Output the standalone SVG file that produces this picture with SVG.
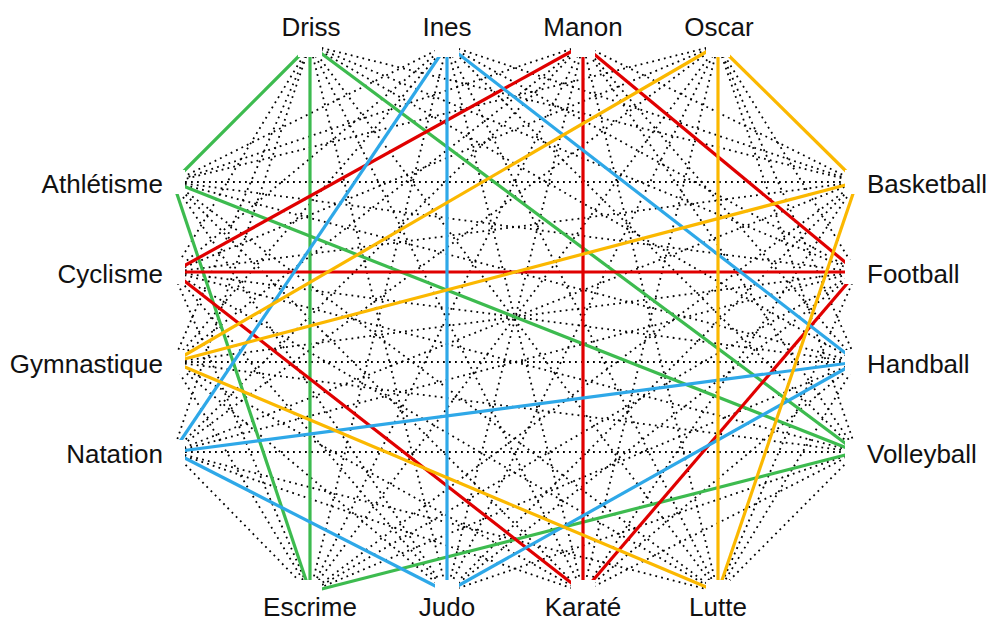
<svg xmlns="http://www.w3.org/2000/svg" width="990" height="623" viewBox="0 0 990 623">
<style>
text{font-family:"Liberation Sans",Arial,sans-serif;font-size:26px;fill:#111}
.l{text-anchor:end}.r{text-anchor:start}.c{text-anchor:middle}
.d{stroke:#000;stroke-width:1.8;stroke-dasharray:1.8 4.2;fill:none}
.g{stroke:#3dbb4f;stroke-width:3.2;fill:none}
.rd{stroke:#e00000;stroke-width:3.2;fill:none}
.b{stroke:#2ea8e8;stroke-width:3.2;fill:none}
.y{stroke:#fbb800;stroke-width:3.2;fill:none}
</style>
<defs>
<mask id="m" maskUnits="userSpaceOnUse" x="0" y="0" width="990" height="623">
<rect x="0" y="0" width="990" height="623" fill="#fff"/>
<g fill="#000">
<rect x="298" y="33" width="24" height="24"/><rect x="435" y="33" width="24" height="24"/><rect x="571" y="33" width="24" height="24"/><rect x="706" y="33" width="24" height="24"/>
<rect x="161" y="170" width="24" height="24"/><rect x="161" y="260" width="24" height="24"/><rect x="161" y="350" width="24" height="24"/><rect x="161" y="440" width="24" height="24"/>
<rect x="845" y="170" width="24" height="24"/><rect x="845" y="260" width="24" height="24"/><rect x="845" y="350" width="24" height="24"/><rect x="845" y="440" width="24" height="24"/>
<rect x="298" y="580" width="24" height="24"/><rect x="435" y="580" width="24" height="24"/><rect x="571" y="580" width="24" height="24"/><rect x="706" y="580" width="24" height="24"/>
</g>
</mask>
</defs>
<rect width="990" height="623" fill="#fff"/>
<g id="connectors" mask="url(#m)">
<g class="d">
<line x1="310" y1="45" x2="173" y2="272"/><line x1="310" y1="45" x2="173" y2="362"/><line x1="310" y1="45" x2="173" y2="452"/>
<line x1="447" y1="45" x2="173" y2="182"/><line x1="447" y1="45" x2="173" y2="272"/><line x1="447" y1="45" x2="173" y2="362"/>
<line x1="583" y1="45" x2="173" y2="182"/><line x1="583" y1="45" x2="173" y2="362"/><line x1="583" y1="45" x2="173" y2="452"/>
<line x1="718" y1="45" x2="173" y2="182"/><line x1="718" y1="45" x2="173" y2="272"/><line x1="718" y1="45" x2="173" y2="452"/>
<line x1="310" y1="45" x2="857" y2="182"/><line x1="310" y1="45" x2="857" y2="272"/><line x1="310" y1="45" x2="857" y2="362"/>
<line x1="447" y1="45" x2="857" y2="182"/><line x1="447" y1="45" x2="857" y2="272"/><line x1="447" y1="45" x2="857" y2="452"/>
<line x1="583" y1="45" x2="857" y2="182"/><line x1="583" y1="45" x2="857" y2="362"/><line x1="583" y1="45" x2="857" y2="452"/>
<line x1="718" y1="45" x2="857" y2="272"/><line x1="718" y1="45" x2="857" y2="362"/><line x1="718" y1="45" x2="857" y2="452"/>
<line x1="310" y1="45" x2="447" y2="592"/><line x1="310" y1="45" x2="583" y2="592"/><line x1="310" y1="45" x2="718" y2="592"/>
<line x1="447" y1="45" x2="310" y2="592"/><line x1="447" y1="45" x2="583" y2="592"/><line x1="447" y1="45" x2="718" y2="592"/>
<line x1="583" y1="45" x2="310" y2="592"/><line x1="583" y1="45" x2="447" y2="592"/><line x1="583" y1="45" x2="718" y2="592"/>
<line x1="718" y1="45" x2="310" y2="592"/><line x1="718" y1="45" x2="447" y2="592"/><line x1="718" y1="45" x2="583" y2="592"/>
<line x1="173" y1="182" x2="857" y2="182"/><line x1="173" y1="182" x2="857" y2="272"/><line x1="173" y1="182" x2="857" y2="362"/>
<line x1="173" y1="272" x2="857" y2="182"/><line x1="173" y1="272" x2="857" y2="362"/><line x1="173" y1="272" x2="857" y2="452"/>
<line x1="173" y1="362" x2="857" y2="272"/><line x1="173" y1="362" x2="857" y2="362"/><line x1="173" y1="362" x2="857" y2="452"/>
<line x1="173" y1="452" x2="857" y2="182"/><line x1="173" y1="452" x2="857" y2="272"/><line x1="173" y1="452" x2="857" y2="452"/>
<line x1="173" y1="182" x2="447" y2="592"/><line x1="173" y1="182" x2="583" y2="592"/><line x1="173" y1="182" x2="718" y2="592"/>
<line x1="173" y1="272" x2="310" y2="592"/><line x1="173" y1="272" x2="447" y2="592"/><line x1="173" y1="272" x2="718" y2="592"/>
<line x1="173" y1="362" x2="310" y2="592"/><line x1="173" y1="362" x2="447" y2="592"/><line x1="173" y1="362" x2="583" y2="592"/>
<line x1="173" y1="452" x2="310" y2="592"/><line x1="173" y1="452" x2="583" y2="592"/><line x1="173" y1="452" x2="718" y2="592"/>
<line x1="857" y1="182" x2="310" y2="592"/><line x1="857" y1="182" x2="447" y2="592"/><line x1="857" y1="182" x2="583" y2="592"/>
<line x1="857" y1="272" x2="310" y2="592"/><line x1="857" y1="272" x2="447" y2="592"/><line x1="857" y1="272" x2="718" y2="592"/>
<line x1="857" y1="362" x2="310" y2="592"/><line x1="857" y1="362" x2="583" y2="592"/><line x1="857" y1="362" x2="718" y2="592"/>
<line x1="857" y1="452" x2="447" y2="592"/><line x1="857" y1="452" x2="583" y2="592"/><line x1="857" y1="452" x2="718" y2="592"/>
</g>
<g class="g">
<line x1="310" y1="45" x2="173" y2="182"/><line x1="310" y1="45" x2="310" y2="592"/><line x1="310" y1="45" x2="857" y2="452"/>
<line x1="173" y1="182" x2="310" y2="592"/><line x1="173" y1="182" x2="857" y2="452"/><line x1="310" y1="592" x2="857" y2="452"/>
</g>
<g class="rd">
<line x1="583" y1="45" x2="173" y2="272"/><line x1="583" y1="45" x2="583" y2="592"/><line x1="583" y1="45" x2="857" y2="272"/>
<line x1="173" y1="272" x2="857" y2="272"/><line x1="173" y1="272" x2="583" y2="592"/><line x1="857" y1="272" x2="583" y2="592"/>
</g>
<g class="b">
<line x1="447" y1="45" x2="173" y2="452"/><line x1="447" y1="45" x2="447" y2="592"/><line x1="447" y1="45" x2="857" y2="362"/>
<line x1="173" y1="452" x2="857" y2="362"/><line x1="173" y1="452" x2="447" y2="592"/><line x1="447" y1="592" x2="857" y2="362"/>
</g>
<g class="y">
<line x1="718" y1="45" x2="173" y2="362"/><line x1="718" y1="45" x2="718" y2="592"/><line x1="718" y1="45" x2="857" y2="182"/>
<line x1="173" y1="362" x2="857" y2="182"/><line x1="173" y1="362" x2="718" y2="592"/><line x1="857" y1="182" x2="718" y2="592"/>
</g>
</g>
<g id="driss"><text class="c" x="311" y="36">Driss</text></g>
<g id="ines"><text class="c" x="447" y="36">Ines</text></g>
<g id="manon"><text class="c" x="583" y="36">Manon</text></g>
<g id="oscar"><text class="c" x="719" y="36">Oscar</text></g>
<g id="athletisme"><text class="l" x="163" y="193">Athlétisme</text></g>
<g id="cyclisme"><text class="l" x="163" y="283">Cyclisme</text></g>
<g id="gymnastique"><text class="l" x="163" y="373">Gymnastique</text></g>
<g id="natation"><text class="l" x="163" y="463">Natation</text></g>
<g id="basketball"><text class="r" x="867" y="193">Basketball</text></g>
<g id="football"><text class="r" x="867" y="283">Football</text></g>
<g id="handball"><text class="r" x="867" y="373">Handball</text></g>
<g id="volleyball"><text class="r" x="867" y="463">Volleyball</text></g>
<g id="escrime"><text class="c" x="310" y="616">Escrime</text></g>
<g id="judo"><text class="c" x="447" y="616">Judo</text></g>
<g id="karate"><text class="c" x="583" y="616">Karaté</text></g>
<g id="lutte"><text class="c" x="718" y="616">Lutte</text></g>
</svg>
